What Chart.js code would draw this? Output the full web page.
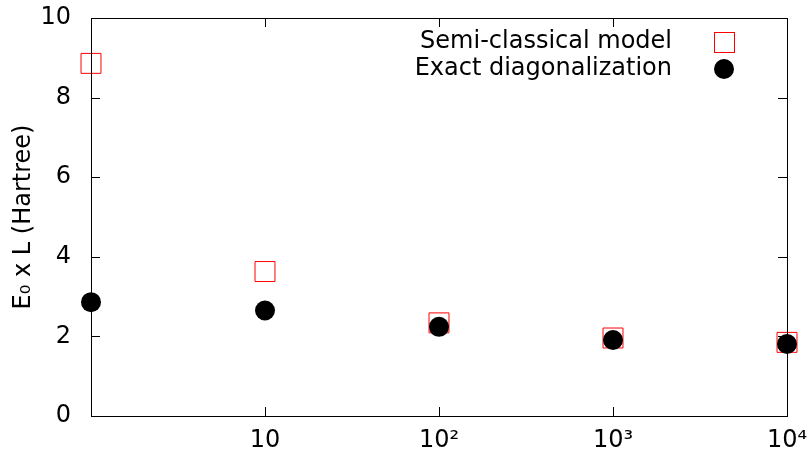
<!DOCTYPE html>
<html>
<head>
<meta charset="utf-8">
<script src="https://cdn.jsdelivr.net/npm/chart.js@4/dist/chart.umd.min.js"></script>
<style>
  html, body { margin: 0; padding: 0; background: #fff; }
</style>
</head>
<body>
<canvas id="grafico" width="809" height="449"></canvas>
<script>
// data
var sizesL = [1, 10, 100, 1000, 10000];
var semiClassical = [8.86, 3.63, 2.34, 1.96, 1.85];
var exactDiag = [2.86, 2.65, 2.24, 1.91, 1.81];
var xTickValues = [1, 10, 100, 1000, 10000];
var xTickLabels = ['', '10', '10²', '10³', '10⁴'];
var yTickValues = [0, 2, 4, 6, 8, 10];

var FONT = 'DejaVu Sans';
var FSIZE = 24;

// gnuplot-like border, inward ticks and key
var marcoPlugin = {
    id: 'marco',
    afterDatasetsDraw: function (chart) {
        var ctx = chart.ctx, a = chart.chartArea;
        var x = chart.scales.x, y = chart.scales.y;
        ctx.save();
        ctx.strokeStyle = '#000';
        ctx.lineWidth = 1;
        ctx.strokeRect(Math.round(a.left) + 0.5, Math.round(a.top) + 0.5,
            Math.round(a.right - a.left), Math.round(a.bottom - a.top));
        ctx.beginPath();
        xTickValues.forEach(function (v) {
            var px = Math.round(x.getPixelForValue(v)) + 0.5;
            ctx.moveTo(px, a.bottom); ctx.lineTo(px, a.bottom - 9);
            ctx.moveTo(px, a.top); ctx.lineTo(px, a.top + 9);
        });
        yTickValues.forEach(function (v) {
            var py = Math.round(y.getPixelForValue(v)) + 0.5;
            ctx.moveTo(a.left, py); ctx.lineTo(a.left + 9, py);
            ctx.moveTo(a.right, py); ctx.lineTo(a.right - 9, py);
        });
        ctx.stroke();

        // key
        var ds = chart.data.datasets;
        ctx.font = FSIZE + 'px "' + FONT + '"';
        ctx.fillStyle = '#000';
        ctx.textAlign = 'right';
        ctx.textBaseline = 'middle';
        var mx = a.right - 63;
        var tx = a.right - 115;
        var y1 = a.top + 24, y2 = a.top + 51;
        ctx.fillText(ds[0].label, tx, y1);
        ctx.fillText(ds[1].label, tx, y2);
        ctx.strokeStyle = '#ff0000';
        ctx.strokeRect(mx - 10 + 0.5, y1 - 10 + 0.5, 20, 20);
        ctx.beginPath();
        ctx.arc(mx, y2, 10, 0, Math.PI * 2);
        ctx.fill();
        ctx.restore();
    }
};

var ctx = document.getElementById('grafico').getContext('2d');
var grafico = new Chart(ctx, {
    type: 'scatter',
    data: {
        datasets: [{
            label: 'Semi-classical model',
            data: sizesL.map(function (l, i) { return { x: l, y: semiClassical[i] }; }),
            pointStyle: 'rect',
            pointRadius: 14.1,
            pointHoverRadius: 14.1,
            borderColor: '#ff0000',
            backgroundColor: 'rgba(0,0,0,0)',
            borderWidth: 1,
            clip: false,
            order: 1
        }, {
            label: 'Exact diagonalization',
            data: sizesL.map(function (l, i) { return { x: l, y: exactDiag[i] }; }),
            pointStyle: 'circle',
            pointRadius: 10,
            pointHoverRadius: 10,
            borderColor: '#000',
            backgroundColor: '#000',
            borderWidth: 0,
            clip: false,
            order: 0
        }]
    },
    options: {
        responsive: false,
        animation: false,
        layout: { padding: { top: 18, right: 22, left: 0, bottom: 0 } },
        plugins: {
            legend: { display: false },
            tooltip: { enabled: false }
        },
        scales: {
            x: {
                type: 'logarithmic',
                min: 1,
                max: 10000,
                afterBuildTicks: function (s) {
                    s.ticks = xTickValues.map(function (v) { return { value: v }; });
                },
                afterFit: function (s) {
                    s.height = 33;
                    s.paddingLeft = 0; s.paddingRight = 0;
                },
                grid: { display: false },
                border: { display: false },
                ticks: {
                    autoSkip: false,
                    maxRotation: 0,
                    padding: 2,
                    color: '#000',
                    font: { family: FONT, size: FSIZE },
                    callback: function (v) { return xTickLabels[xTickValues.indexOf(v)]; }
                }
            },
            y: {
                min: 0,
                max: 10,
                afterBuildTicks: function (s) {
                    s.ticks = yTickValues.map(function (v) { return { value: v }; });
                },
                afterFit: function (s) {
                    s.width = 91;
                    s.paddingTop = 0; s.paddingBottom = 0;
                },
                grid: { display: false },
                border: { display: false },
                title: {
                    display: true,
                    text: 'E₀ x L (Hartree)',
                    color: '#000',
                    font: { family: FONT, size: FSIZE },
                    padding: { top: 9, bottom: 0 }
                },
                ticks: {
                    padding: 12,
                    color: '#000',
                    font: { family: FONT, size: FSIZE }
                }
            }
        }
    },
    plugins: [marcoPlugin]
});
</script>
</body>
</html>
